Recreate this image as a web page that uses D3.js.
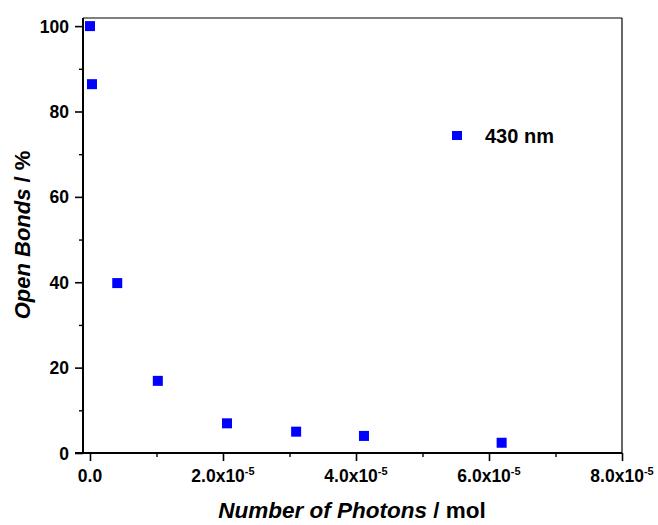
<!DOCTYPE html>
<html><head><meta charset="utf-8">
<script src="https://cdn.jsdelivr.net/npm/d3@7"></script>
<style>body{margin:0;background:#fff}svg{display:block}text{font-family:"Liberation Sans",Arial,sans-serif;font-weight:bold;fill:#000}</style>
</head><body><svg id="c" width="658" height="525"></svg>
<script>
const photons = [0, 0.03e-5, 0.41e-5, 1.02e-5, 2.06e-5, 3.1e-5, 4.12e-5, 6.19e-5];
const openBonds = [100, 86.4, 39.8, 16.9, 6.95, 5.0, 4.0, 2.4];
const xTicks = [0, 2e-5, 4e-5, 6e-5, 8e-5];
const xTickLabels = ["0.0", "2.0x10", "4.0x10", "6.0x10", "8.0x10"];
const xTickExp = ["", "-5", "-5", "-5", "-5"];
const yTicks = [0, 20, 40, 60, 80, 100];
const seriesName = "430 nm";

const svg = d3.select("#c");
const L = 83, R = 622, T = 18, B = 453;
const x = d3.scaleLinear().domain([-0.105e-5, 8e-5]).range([L, R]);
const y = d3.scaleLinear().domain([0, 101.9]).range([B, T]);

// frame top/right
svg.append("line").attr("x1", L).attr("x2", R).attr("y1", T).attr("y2", T).attr("stroke", "#000").attr("stroke-width", 1.2);
svg.append("line").attr("x1", R).attr("x2", R).attr("y1", T).attr("y2", B).attr("stroke", "#000").attr("stroke-width", 1.2);

// y axis
const yAx = svg.append("g").attr("transform", `translate(${L},0)`)
  .call(d3.axisLeft(y).tickValues(yTicks).tickSize(8).tickPadding(6).tickFormat(d3.format("d")));
yAx.select(".domain").remove();
yAx.selectAll(".tick line").attr("stroke-width", 1.6);
yAx.selectAll("text").attr("font-size", 17.5).attr("font-family", null).attr("dy", "0.35em");
svg.append("g").attr("transform", `translate(${L},0)`)
  .call(d3.axisLeft(y).tickValues([10, 30, 50, 70, 90]).tickSize(4).tickFormat(""))
  .call(g => g.select(".domain").remove()).selectAll("line").attr("stroke-width", 1.4);

// x axis
const xAx = svg.append("g").attr("transform", `translate(0,${B})`)
  .call(d3.axisBottom(x).tickValues(xTicks).tickSize(8).tickFormat(""));
xAx.select(".domain").remove();
xAx.selectAll("line").attr("stroke-width", 1.6);
svg.append("g").attr("transform", `translate(0,${B})`)
  .call(d3.axisBottom(x).tickValues([1e-5, 3e-5, 5e-5, 7e-5]).tickSize(4).tickFormat(""))
  .call(g => g.select(".domain").remove()).selectAll("line").attr("stroke-width", 1.4);

// x tick labels
xTicks.forEach((v, i) => {
  const t = svg.append("text").attr("x", x(v)).attr("y", 482).attr("text-anchor", "middle").attr("font-size", 17.5);
  t.append("tspan").text(xTickLabels[i]);
  if (xTickExp[i]) t.append("tspan").attr("font-size", 11).attr("dy", -7).text(xTickExp[i]);
});

// axis lines (thicker)
svg.append("line").attr("x1", L).attr("x2", L).attr("y1", T).attr("y2", B).attr("stroke", "#000").attr("stroke-width", 2);
svg.append("line").attr("x1", L - 8).attr("x2", R).attr("y1", B).attr("y2", B).attr("stroke", "#000").attr("stroke-width", 2.2);

// points
svg.append("g").selectAll("rect").data(photons).join("rect")
  .attr("x", (d) => x(d) - 5).attr("y", (d, i) => y(openBonds[i]) - 5)
  .attr("width", 10).attr("height", 10).attr("fill", "#0000ff");

// legend
svg.append("rect").attr("x", 452).attr("y", 131).attr("width", 10).attr("height", 9).attr("fill", "#0000ff");
svg.append("text").attr("x", 485).attr("y", 143).attr("font-size", 20).text(seriesName);

// axis titles
const xt = svg.append("text").attr("x", 352).attr("y", 518).attr("text-anchor", "middle").attr("font-size", 22.5);
xt.append("tspan").attr("font-style", "italic").text("Number of Photons");
xt.append("tspan").text(" / mol");
const yt = svg.append("text").attr("transform", "translate(30,235) rotate(-90)").attr("text-anchor", "middle").attr("font-size", 22);
yt.append("tspan").attr("font-style", "italic").text("Open Bonds");
yt.append("tspan").text(" / %");
</script></body></html>
